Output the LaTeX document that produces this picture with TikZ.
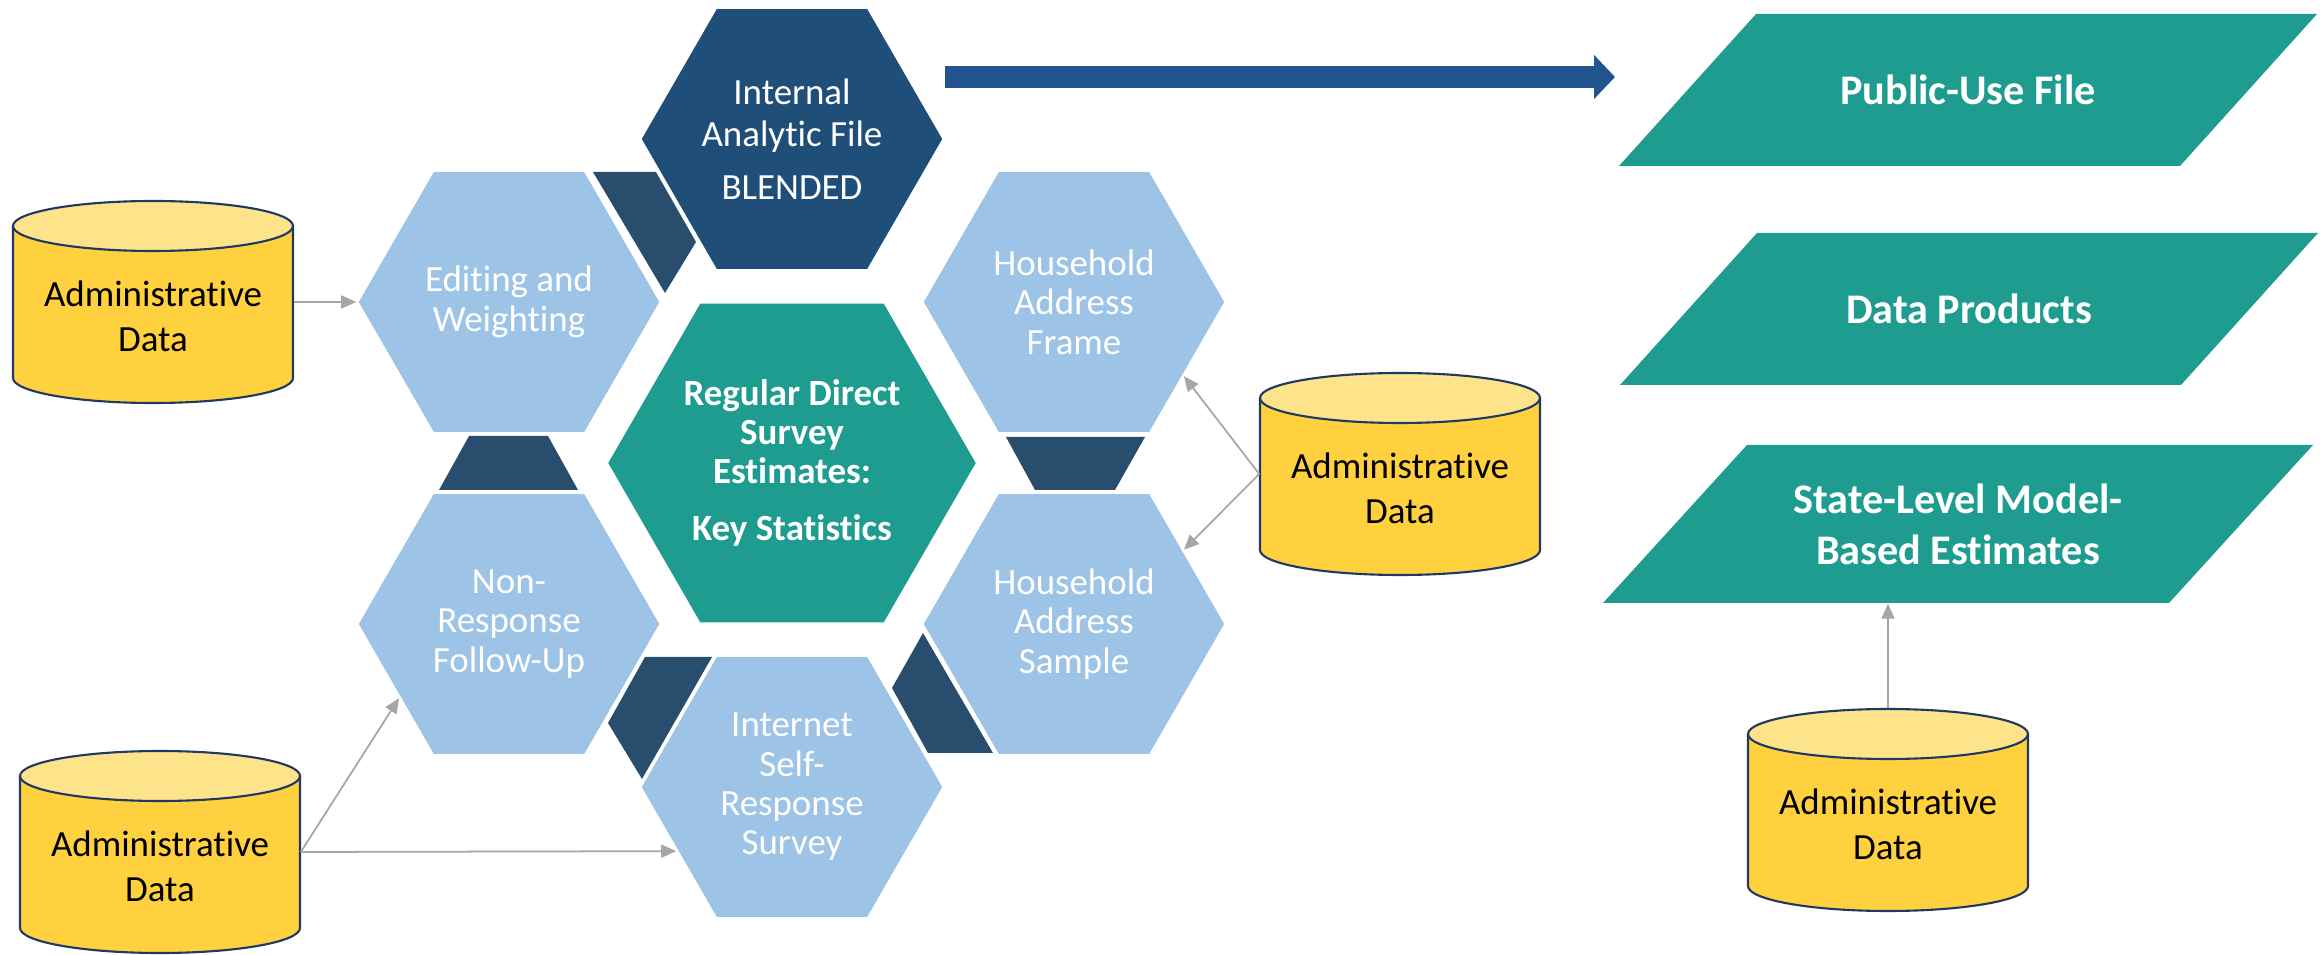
\documentclass[tikz,border=0pt]{standalone}
\usepackage{fontspec}
\setmainfont{Carlito}[Ligatures=NoCommon]
\usetikzlibrary{arrows.meta,calc,shapes.geometric}
\definecolor{cellblue}{HTML}{9DC3E6}
\definecolor{navy}{HTML}{1F4E79}
\definecolor{jointc}{HTML}{294D6C}
\definecolor{tealfill}{HTML}{1D9C8F}
\definecolor{flow}{HTML}{22548F}
\definecolor{cylbody}{HTML}{FFD13F}
\definecolor{cyltop}{HTML}{FDE48B}
\definecolor{cylline}{HTML}{1F3864}
\definecolor{linkgray}{HTML}{A6A6A6}
\tikzset{
  hexa/.style={regular polygon, regular polygon sides=6, minimum size=3.03cm, inner sep=0pt,
    draw=white, line width=0.6pt, fill=cellblue, text=white, align=center,
    font=\fontsize{10.5}{11.2}\selectfont},
  keyhex/.style={hexa, minimum size=3.7cm, fill=tealfill, font=\bfseries\fontsize{10.5}{11.2}\selectfont},
  jointpc/.style={fill=jointc},
  product/.style={inner sep=0pt, text=white, align=center, font=\bfseries\fontsize{12}{14.5}\selectfont},
  cylbox/.style={minimum width=2.8cm, minimum height=2.02cm, inner sep=0pt},
  cyltext/.style={align=center, font=\fontsize{10.5}{12.8}\selectfont},
  cylpart/.style={draw=cylline, line width=0.6pt},
  link/.style={draw=linkgray, line width=0.5pt, -{Triangle[length=0.15cm,width=0.13cm]}},
  flowarrow/.style={draw=flow, line width=0.21cm, -{Triangle[length=0.21cm,width=0.43cm]}}
}

\begin{document}
\begin{tikzpicture}[x=0.01cm, y=-0.01cm]
  \useasboundingbox (0,0) rectangle (2323,955);

  % dark joints behind the cells
  \fill[jointpc] (593,172) -- (656,172) -- (696,242) -- (665,293) -- cycle;
  \fill[jointpc] (469,436) -- (548,436) -- (578,490) -- (439,490) -- cycle;
  \fill[jointpc] (1006,437) -- (1145,437) -- (1115,490) -- (1035,490) -- cycle;
  \fill[jointpc] (645,657) -- (712,657) -- (642,779) -- (608,723) -- cycle;
  \fill[jointpc] (923,633) -- (892,688) -- (928,753) -- (993,753) -- cycle;

  % hexagon cluster
  \node[hexa, fill=navy, font=\fontsize{10.5}{12}\selectfont] (internal) at (792,139) {Internal\\Analytic File\\[3pt]BLENDED};
  \node[hexa] (edit) at (509,302) {Editing and\\Weighting};
  \node[hexa] (frame) at (1074,302) {Household\\Address\\Frame};
  \node[keyhex] (keystat) at (792,463) {Regular Direct\\Survey\\Estimates:\\[5pt]Key Statistics};
  \node[hexa] (nonresp) at (509,624) {Non-\\Response\\Follow-Up};
  \node[hexa] (sample) at (1074,624) {Household\\Address\\Sample};
  \node[hexa] (internet) at (792,787) {Internet\\Self-\\Response\\Survey};

  % products (slanted boxes)
  \foreach \nm/\cx/\cy/\w/\h/\d/\txt in {puf/1968/90/561/152/137/{Public-Use File},
      prod/1969/309/561/152/137/{Data Products},
      state/1958/524/566/158/144/{State-Level Model-\\Based Estimates}} {
    \fill[tealfill] (\cx-\w/2+\d/2,\cy-\h/2) -- (\cx+\w/2+\d/2,\cy-\h/2)
      -- (\cx+\w/2-\d/2,\cy+\h/2) -- (\cx-\w/2-\d/2,\cy+\h/2) -- cycle;
    \node[product, minimum width=\w*0.01cm, minimum height=\h*0.01cm] (\nm) at (\cx,\cy) {\txt};
  }

  % administrative data stores
  \foreach \nm/\cx/\cy in {admA/153/302, admB/160/852, admC/1400/474, admD/1888/810} {
    \fill[cylbody] (\cx-140,\cy-76) -- (\cx-140,\cy+76) arc[start angle=180, end angle=0, x radius=140, y radius=25]
      -- (\cx+140,\cy-76) arc[start angle=0, end angle=180, x radius=140, y radius=25] -- cycle;
    \draw[cylpart, fill=cyltop] (\cx,\cy-76) ellipse[x radius=140, y radius=25];
    \draw[cylpart] (\cx-140,\cy-76) -- (\cx-140,\cy+76) arc[start angle=180, end angle=0, x radius=140, y radius=25]
      -- (\cx+140,\cy-76);
    \node[cylbox] (\nm) at (\cx,\cy) {};
    \node[cyltext] (\nm txt) at (\cx,\cy+14) {Administrative\\Data};
  }

  % links
  \draw[link] (admA.east) -- (edit.west);
  \draw[link] (admB.east) -- (nonresp.214);
  \draw[link] (admB.east) -- (internet.209.5);
  \draw[link] (admC.west) -- (frame.326);
  \draw[link] (admC.west) -- (sample.34);
  \draw[link] (admD.north) -- (admD.north |- state.south);

  % release arrow
  \coordinate (pufin) at (1615,77);
  \draw[flowarrow] (internal.east |- pufin) -- (pufin);
\end{tikzpicture}
\end{document}
